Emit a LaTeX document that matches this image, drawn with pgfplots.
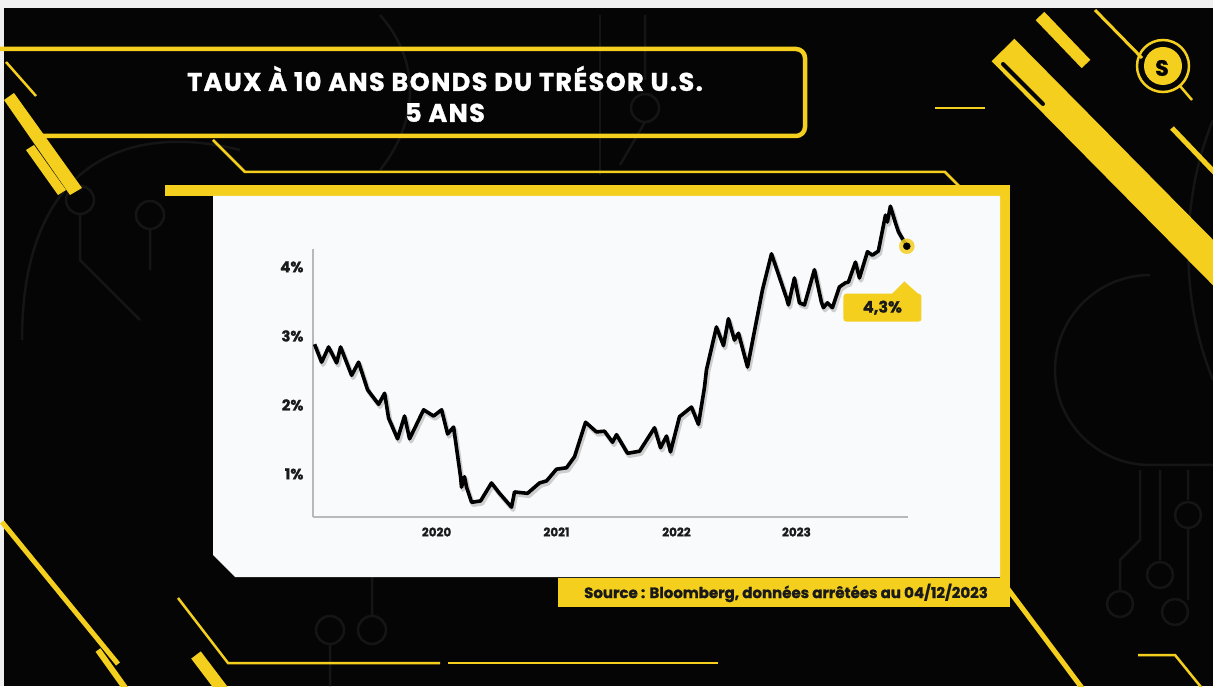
\documentclass[border=0pt]{standalone}
\usepackage{pgfplots}
\pgfplotsset{compat=1.18}
\usepackage{pgfplotstable}
\usepackage{fontspec}
\setmainfont{Poppins}[BoldFeatures={FakeBold=1.2}]
\definecolor{yel}{HTML}{F4CF1E}
\definecolor{bg}{HTML}{050505}
\definecolor{trace}{HTML}{151515}
\definecolor{panel}{HTML}{F8FAFC}
\definecolor{ink}{HTML}{1A1A1A}

% US 10-year Treasury yield, Dec 2018 - Dec 2023 (decimal year, percent)
\pgfplotstableread{
year rate
2018.983 2.88
2019.042 2.62
2019.100 2.84
2019.167 2.61
2019.200 2.84
2019.292 2.43
2019.350 2.62
2019.425 2.22
2019.517 2.01
2019.567 2.17
2019.600 1.81
2019.675 1.51
2019.733 1.84
2019.775 1.51
2019.892 1.93
2019.975 1.84
2020.042 1.93
2020.092 1.58
2020.142 1.68
2020.200 0.96
2020.208 0.81
2020.233 0.96
2020.250 0.81
2020.292 0.59
2020.367 0.61
2020.458 0.87
2020.525 0.72
2020.625 0.52
2020.650 0.74
2020.758 0.72
2020.858 0.87
2020.917 0.90
2021.000 1.07
2021.083 1.09
2021.150 1.25
2021.242 1.75
2021.333 1.61
2021.400 1.62
2021.467 1.46
2021.500 1.57
2021.592 1.30
2021.692 1.33
2021.817 1.67
2021.867 1.38
2021.917 1.55
2021.950 1.32
2022.025 1.83
2022.125 1.97
2022.183 1.72
2022.233 2.25
2022.250 2.51
2022.333 3.13
2022.392 2.86
2022.433 3.25
2022.483 2.94
2022.517 3.04
2022.592 2.55
2022.717 3.67
2022.792 4.19
2022.917 3.55
2022.933 3.45
2022.983 3.84
2023.025 3.48
2023.067 3.45
2023.150 3.96
2023.208 3.49
2023.225 3.41
2023.258 3.48
2023.300 3.41
2023.358 3.71
2023.408 3.77
2023.433 3.78
2023.492 4.07
2023.525 3.84
2023.592 4.22
2023.633 4.17
2023.683 4.23
2023.742 4.75
2023.758 4.65
2023.783 4.88
2023.825 4.64
2023.850 4.51
2023.920 4.30
}\yields

\begin{document}
\begin{tikzpicture}[x=1pt,y=1pt]
\path[use as bounding box] (0,0) rectangle (1213,686);
\clip (0,0) rectangle (1213,686);

% ---------- frame and decoration (drawn top-down, y grows downward) ----------
\begin{scope}[shift={(0,686)},yscale=-1]
  \fill[gray!12] (0,0) rectangle (1213,686);
  \fill[bg] (4,8) rectangle (1213,686);

  % faint circuit traces
  \begin{scope}[draw=trace, line width=2.5pt]
    \draw (22,340) .. controls (22,170) and (120,120) .. (240,150);
    \draw (80,200) circle (14) (80,214) -- (80,260) -- (140,320);
    \draw (150,215) circle (14) (150,229) -- (150,270);
    \draw (600,15) -- (600,175);
    \draw (645,15) -- (645,80) (645,108) circle (14) (645,122) -- (620,165);
    \draw (380,15) .. controls (420,60) and (420,120) .. (380,170);
    \draw (1213,465) -- (1150,465) arc[start angle=90, end angle=270, radius=95];
    \draw (1160,470) -- (1160,560) (1160,575) circle (13);
    \draw (1188,470) -- (1188,500) (1188,515) circle (13) (1188,528) -- (1188,600) (1175,612) circle (13);
    \draw (1140,470) -- (1140,540) -- (1120,560) -- (1120,590) (1120,604) circle (13);
    \draw (330,630) circle (14) (372,630) circle (14) (330,644) -- (330,686) (372,616) -- (372,560);
    \draw (1213,120) .. controls (1180,200) and (1180,300) .. (1213,380);
  \end{scope}

  % title frame
  \draw[yel, line width=4.5pt, rounded corners=9pt] (0,49) -- (805,49) -- (805,136) -- (30,136);
  \draw[yel, line width=2.5pt] (6,62) -- (36,96);
  \fill[yel] (4,100) -- (14,93) -- (82,188) -- (70,195) -- cycle;
  \fill[yel] (26,150) -- (34,145) -- (66,190) -- (58,195) -- cycle;
  \draw[yel, line width=2.5pt] (213,140) -- (245,172) -- (945,172) -- (975,202);
  \node[text=white, align=center,
        font=\addfontfeatures{LetterSpace=5.5}\fontsize{25.5}{31}\selectfont\bfseries]
    at (445,94) {TAUX À 10 ANS BONDS DU TRÉSOR U.S.\\5 ANS};

  % right side stripes
  \draw[yel, line width=32pt] (1003,50) -- (1250,300);
  \draw[bg, line width=4pt, line cap=round] (1003,64) -- (1043,104);
  \draw[yel, line width=12pt] (1040,16) -- (1086,64);
  \draw[yel, line width=3pt] (1095,10) -- (1142,58);
  \draw[yel, line width=5pt] (1172,128) -- (1215,173);
  \draw[yel, line width=2.5pt] (935,108) -- (985,108);

  % logo
  \draw[yel, line width=2.5pt] (1163,66) circle (26);
  \draw[yel, line width=2.5pt] (1180,86) -- (1192,100);
  \fill[yel] (1163,66) circle (19);
  \node[text=bg, font=\fontsize{22}{22}\selectfont\bfseries] at (1162,68) {S};

  % chart panel
  \fill[yel] (165,185) rectangle (1010,196);
  \fill[yel] (1000,185) rectangle (1010,590);
  \fill[panel] (213,196) -- (1000,196) -- (1000,577) -- (235,577) -- (213,555) -- cycle;
  \fill[yel] (558,578) rectangle (1010,607);
  \node[text=ink, font=\fontsize{15}{15}\selectfont\bfseries] at (786,593)
    {Source : Bloomberg, données arrêtées au 04/12/2023};

  % lower stripes
  \draw[yel, line width=5pt] (1005,585) -- (1085,692);
  \draw[yel, line width=2.5pt] (178,598) -- (228,663) -- (440,663);
  \draw[yel, line width=2.5pt] (448,663) -- (718,663);
  \draw[yel, line width=5pt] (2,522) -- (118,664);
  \draw[yel, line width=6pt] (98,650) -- (128,692);
  \draw[yel, line width=12pt] (196,655) -- (224,692);
  \draw[yel, line width=2.5pt] (1138,655) -- (1175,655) -- (1205,692);
\end{scope}

% ---------- the yield chart ----------
\begin{axis}[
  at={(313pt,169pt)}, anchor=south west,
  scale only axis, width=595pt, height=268pt,
  xmin=2018.97, xmax=2023.93, ymin=0.377, ymax=4.26,
  axis lines=left,
  axis line style={-, draw=gray!55, line width=2.5pt},
  xtick={2020,2021,2022,2023}, xticklabels={2020,2021,2022,2023},
  ytick={1,2,3,4}, yticklabels={1\%,2\%,3\%,4\%},
  major tick length=0pt,
  xticklabel style={font=\fontsize{12}{12}\selectfont\bfseries, text=ink, yshift=-7pt},
  yticklabel style={font=\fontsize{15}{15}\selectfont\bfseries, text=ink, xshift=-6pt},
  clip=false,
]
  % soft drop shadow under the line
  \addplot[gray!60, line width=4.5pt, opacity=0.6, line join=round,
    transform canvas={xshift=1.5pt, yshift=-2.5pt}] table[x=year, y=rate] {\yields};
  \addplot[black, line width=3.6pt, line join=round] table[x=year, y=rate] {\yields};
  % latest value
  \addplot[only marks, mark=*, mark size=7.5pt, yel, opacity=0.85] coordinates {(2023.92,4.30)};
  \addplot[only marks, mark=*, mark size=3.5pt, black] coordinates {(2023.92,4.30)};
  \fill[yel] (axis cs:2023.775,3.57) -- (axis cs:2023.90,3.79) -- (axis cs:2024.04,3.57) -- cycle;
  \node[fill=yel, rounded corners=3pt, minimum width=78pt, minimum height=28pt,
        text=ink, font=\fontsize{16}{16}\selectfont\bfseries]
    at (axis cs:2023.717,3.41) {4,3\%};
\end{axis}
\end{tikzpicture}
\end{document}
